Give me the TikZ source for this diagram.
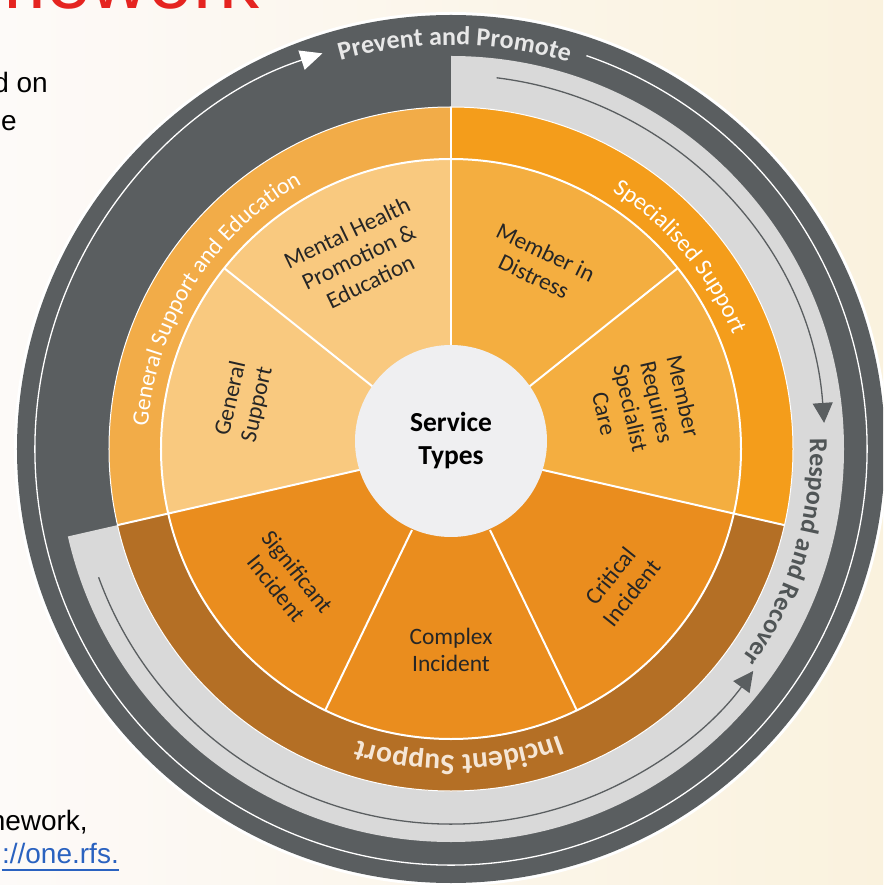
\documentclass[tikz,border=0pt]{standalone}
\usepackage{fontspec}
\setmainfont{Carlito}
\newfontfamily\slidefont{Liberation Sans}
\usetikzlibrary{arrows.meta, decorations.text}

\definecolor{bgleft}{HTML}{FDFAF8}
\definecolor{bgright}{HTML}{FAF2DE}
\definecolor{ringdark}{HTML}{5A5E60}
\definecolor{ringlight}{HTML}{D9D9D9}
\definecolor{bandedu}{HTML}{F2AC48}
\definecolor{bandspec}{HTML}{F49D1B}
\definecolor{bandinc}{HTML}{B46F25}
\definecolor{seglight}{HTML}{F9C97F}
\definecolor{segmid}{HTML}{F4AE40}
\definecolor{segdark}{HTML}{EA8D1E}
\definecolor{hubfill}{HTML}{EFEFF1}
\definecolor{promotext}{HTML}{E8E8E8}
\definecolor{incitext}{HTML}{F5E6D6}
\definecolor{respondtext}{HTML}{505556}
\definecolor{titlered}{HTML}{E52420}
\definecolor{linkblue}{HTML}{2A62C0}

\begin{document}
\begin{tikzpicture}[x=1pt, y=1pt,
  seglabel/.style={align=center, text=black!85, inner sep=0pt,
    font=\fontsize{23.5}{27}\selectfont},
  slidetext/.style={anchor=base east, inner sep=0pt,
    font=\slidefont\fontsize{28}{34}\selectfont}]
  % page and background
  \useasboundingbox (-451,-436) rectangle (432,449);
  \clip (-451,-436) rectangle (432,449);
  \shade[left color=bgleft, right color=bgright] (-451,-436) rectangle (432,449);

  % slide text around the wheel
  \node[anchor=base east, inner sep=0pt, text=titlered,
    font=\slidefont\fontsize{80}{80}\selectfont] (title) at (-191,440) {mework};
  \node[slidetext] (basedon) at (-403,356) {d on};
  \node[slidetext] (the) at (-434,318) {e};
  \node[slidetext] (framework) at (-363,-381) {nework,};
  \node[slidetext, text=linkblue] (link) at (-332,-414) {://one.rfs.};
  \draw[linkblue, line width=1.4pt] ([yshift=-7pt]link.base west) -- ([yshift=-7pt]link.base east);

  % outer rings
  \fill[white] (0,0) circle[radius=437];
  \fill[ringdark] (0,0) circle[radius=434];
  \fill[ringlight] (90:393) arc[start angle=90, end angle=-167.14, radius=393]
    -- (-167.14:342) arc[start angle=-167.14, end angle=90, radius=342] -- cycle;

  % category bands
  \foreach \a/\b/\col in {90/192.86/bandedu, 192.86/347.14/bandinc, -12.86/90/bandspec}
    \fill[\col] (0,0) -- (\a:342) arc[start angle=\a, end angle=\b, radius=342] -- cycle;

  % service segments
  \foreach \a/\col [evaluate=\a as \b using \a+360/7] in {90/seglight, 141.43/seglight,
      192.86/segdark, 244.29/segdark, 295.71/segdark, 347.14/segmid, 38.57/segmid}
    \fill[\col] (0,0) -- (\a:290) arc[start angle=\a, end angle=\b, radius=290] -- cycle;

  % white dividers
  \draw[white, line width=1pt] (0,0) circle[radius=342];
  \draw[white, line width=2pt] (0,0) circle[radius=290];
  \foreach \a in {141.43, 244.29, 295.71, 38.57}
    \draw[white, line width=2pt] (\a:90) -- (\a:290);
  \foreach \a in {90, 192.86, 347.14}
    \draw[white, line width=2pt] (\a:90) -- (\a:342);

  % cycle arrows
  \draw[white, line width=1.3pt, -{Triangle[width=20pt, length=22pt]}]
    (71:416) arc[start angle=71, end angle=-252, radius=416];
  \draw[ringdark, line width=1.3pt, -{Triangle[width=20pt, length=20pt]}]
    (83:374) arc[start angle=83, end angle=4, radius=374];
  \draw[ringdark, line width=1.3pt, -{Triangle[width=20pt, length=20pt]}]
    (200:375) arc[start angle=200, end angle=323.7, radius=375];

  % ring captions
  \path[decorate, decoration={text along path, text align=center,
    text={|\bfseries\fontsize{26}{26}\selectfont\color{promotext}|Prevent and Promote}}]
    (130:404) arc[start angle=130, end angle=49, radius=404];
  \path[decorate, decoration={text along path, text align=center,
    text={|\bfseries\fontsize{26}{26}\selectfont\color{respondtext}|Respond and Recover}}]
    (10:359) arc[start angle=10, end angle=-44, radius=359];
  \path[decorate, decoration={text along path, text align=center,
    text={|\bfseries\fontsize{29.5}{29.5}\selectfont\color{incitext}|Incident Support}}]
    (-48.5:306) arc[start angle=-48.5, end angle=-128.5, radius=306];
  \path[decorate, decoration={text along path, text align=center,
    text={|\fontsize{23.5}{23.5}\selectfont\color{white}|General Support and Education}}]
    (200:304) arc[start angle=200, end angle=95, radius=304];
  \path[decorate, decoration={text along path, text align=center,
    text={|\fontsize{24}{24}\selectfont\color{white}|Specialised Support}}]
    (80:304) arc[start angle=80, end angle=0, radius=304];

  % hub
  \node[circle, fill=hubfill, minimum size=192pt, inner sep=0pt, align=center,
    font=\bfseries\fontsize{27.5}{33}\selectfont] (hub) at (0,8) {Service\\Types};

  % segment labels
  \node[seglabel, rotate=25.71] (mental) at (115.71:213) {Mental Health\\Promotion \&\\Education};
  \node[seglabel, rotate=77.14] (general) at (167.14:212) {General\\Support};
  \node[seglabel, rotate=-51.43] (significant) at (218.57:210) {Significant\\Incident};
  \node[seglabel] (complex) at (270:201) {Complex\\Incident};
  \node[seglabel, rotate=51.43] (critical) at (321.43:217) {Critical\\Incident};
  \node[seglabel, rotate=-77.14] (specialist) at (12.86:198) {Member\\Requires\\Specialist\\Care};
  \node[seglabel, rotate=-25.71] (distress) at (64.29:205) {Member in\\Distress};
\end{tikzpicture}
\end{document}
